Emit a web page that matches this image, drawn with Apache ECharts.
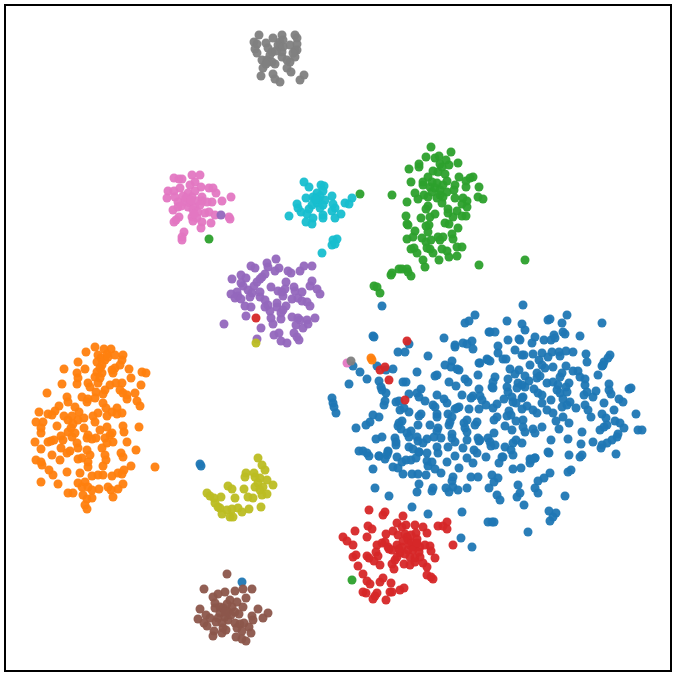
<!DOCTYPE html>
<html><head><meta charset="utf-8">
<style>html,body{margin:0;padding:0;background:#fff}#c{width:676px;height:676px}</style>
<script src="https://cdn.jsdelivr.net/npm/echarts@6/dist/echarts.min.js"></script>
</head><body><div id="c"></div>
<script>
const class0 = [[382,306],[475,315],[465,323],[469,321],[373,336],[374,337],[444,338],[409,344],[398,352],[405,352],[428,356],[455,345],[455,347],[463,343],[467,344],[472,341],[473,349],[489,332],[353,366],[360,372],[367,379],[349,384],[377,366],[386,370],[393,369],[417,372],[379,381],[381,387],[382,390],[386,393],[403,382],[406,382],[437,375],[435,376],[445,365],[452,361],[451,367],[457,369],[459,370],[479,363],[487,359],[488,360],[478,375],[449,382],[456,386],[465,379],[468,382],[421,389],[417,393],[419,397],[425,401],[437,395],[409,394],[444,399],[447,403],[462,395],[479,389],[473,396],[471,398],[480,396],[482,400],[332,398],[333,403],[334,407],[336,413],[385,401],[384,405],[396,402],[399,401],[433,405],[435,407],[404,408],[400,410],[409,412],[421,414],[419,416],[437,414],[437,417],[448,414],[452,417],[457,408],[459,407],[455,409],[469,409],[479,409],[486,405],[373,415],[379,417],[370,422],[366,425],[356,428],[402,421],[399,423],[398,426],[401,429],[418,425],[430,425],[449,425],[450,422],[464,423],[467,420],[477,422],[475,425],[465,428],[438,428],[437,431],[434,437],[441,438],[411,431],[407,433],[409,437],[417,437],[418,441],[427,439],[423,443],[467,432],[467,440],[452,434],[452,438],[455,442],[478,438],[479,441],[488,438],[382,437],[376,439],[395,438],[396,442],[396,445],[359,451],[363,451],[367,453],[369,456],[379,456],[388,451],[387,455],[397,457],[409,447],[413,449],[419,452],[427,453],[437,447],[438,453],[448,447],[455,456],[463,448],[474,450],[477,453],[406,460],[411,460],
[523,305],[507,321],[567,315],[548,320],[550,319],[562,323],[522,324],[525,330],[602,323],[490,332],[495,332],[563,332],[565,334],[580,336],[508,340],[519,339],[520,340],[535,337],[532,343],[544,340],[551,340],[554,335],[555,338],[498,346],[498,353],[515,350],[522,355],[524,355],[533,354],[542,353],[552,352],[559,352],[566,351],[573,352],[560,356],[548,357],[586,354],[587,362],[610,355],[608,358],[604,362],[602,366],[603,365],[490,361],[480,363],[503,359],[506,359],[530,365],[539,360],[542,365],[545,368],[553,367],[566,366],[510,369],[519,370],[515,374],[525,376],[529,381],[508,379],[537,373],[537,378],[540,376],[562,373],[560,377],[573,371],[578,371],[580,377],[585,379],[598,375],[495,377],[493,382],[492,387],[493,388],[518,383],[522,385],[525,387],[517,388],[507,387],[508,392],[547,383],[553,382],[558,385],[569,383],[566,387],[585,385],[609,384],[631,388],[629,389],[534,389],[538,393],[542,395],[557,390],[560,393],[567,392],[587,392],[584,395],[596,391],[593,397],[609,390],[611,394],[504,399],[512,397],[523,397],[522,398],[513,402],[551,400],[542,403],[563,399],[570,402],[619,399],[623,402],[604,403],[497,404],[493,408],[516,403],[527,406],[522,409],[533,410],[537,413],[547,410],[553,413],[562,407],[567,405],[576,408],[585,405],[588,410],[591,417],[614,410],[509,411],[511,415],[507,416],[497,417],[494,420],[523,420],[516,421],[556,421],[563,417],[569,423],[602,414],[606,418],[607,425],[615,421],[620,423],[624,428],[636,414],[505,426],[512,430],[523,427],[525,432],[533,429],[535,433],[542,427],[559,429],[600,430],[604,427],[638,430],[642,430],[582,432],[618,434],[617,437],[494,433],[480,440],[568,439],[551,440],[516,440],[513,443],[522,443],[490,442],[491,446],[495,445],[612,440],[607,443],[602,445],[601,448],[593,442],[581,444],[505,447],[511,450],[513,455],[548,452],[549,453],[569,455],[580,457],[582,455],[616,454],[503,457],[530,459],[535,458],[486,457],
[373,469],[375,488],[389,496],[412,507],[428,514],[462,512],[417,492],[419,484],[403,474],[412,474],[418,474],[426,475],[393,467],[398,468],[402,462],[416,458],[419,452],[379,456],[385,459],[388,452],[427,461],[428,466],[432,462],[447,462],[459,468],[435,469],[441,473],[453,477],[452,481],[453,487],[446,488],[449,492],[458,490],[467,488],[433,488],[432,491],[471,477],[478,477],[489,488],[492,475],[498,478],[494,482],[497,495],[500,500],[513,469],[521,468],[499,463],[502,457],[473,463],[467,458],[530,463],[531,460],[535,458],[550,473],[544,478],[538,481],[535,488],[538,493],[518,485],[520,493],[517,497],[524,505],[568,472],[571,470],[565,496],[549,511],[556,513],[553,517],[550,521],[488,522],[492,522],[494,522],[528,532],[461,538],[472,547],[200,464],[201,466],[242,582]];
const class1 = [[95,347],[86,352],[111,349],[107,354],[98,355],[101,358],[97,362],[105,360],[108,357],[115,355],[123,355],[122,360],[78,362],[64,369],[85,369],[77,373],[97,372],[102,373],[112,370],[115,368],[120,365],[129,369],[142,372],[146,373],[113,373],[95,377],[100,378],[78,378],[131,378],[62,384],[77,384],[88,383],[90,387],[98,383],[141,385],[110,385],[116,383],[122,383],[105,390],[103,394],[96,392],[120,390],[123,393],[127,395],[135,393],[47,393],[67,397],[68,402],[82,397],[88,399],[95,398],[87,402],[127,399],[137,401],[140,406],[103,403],[106,408],[117,408],[112,412],[107,416],[117,414],[122,413],[98,413],[93,416],[39,412],[59,406],[55,411],[48,414],[52,415],[75,407],[79,412],[64,416],[68,420],[72,416],[78,420],[84,418],[36,422],[43,422],[41,428],[41,433],[57,426],[73,424],[71,428],[95,422],[68,432],[75,433],[61,436],[63,440],[51,441],[54,440],[48,442],[35,442],[72,437],[77,443],[84,428],[88,435],[87,438],[92,439],[96,438],[100,430],[107,427],[112,433],[110,435],[123,426],[124,432],[139,427],[105,438],[113,442],[127,442],[107,443],[102,448],[136,450],[41,449],[61,448],[78,448],[87,450],[90,455],[70,451],[67,453],[52,455],[60,460],[78,459],[82,458],[121,453],[123,457],[105,455],[106,460],[103,466],[88,462],[88,467],[36,460],[41,462],[42,465],[131,466],[49,470],[53,475],[67,472],[80,473],[92,476],[98,475],[103,475],[112,476],[118,473],[124,470],[122,474],[155,467],[41,482],[58,484],[78,483],[85,482],[82,487],[88,487],[123,484],[118,489],[108,487],[111,490],[99,489],[68,493],[73,493],[83,495],[87,499],[92,498],[113,497],[85,505],[87,509],[371,358],[372,360],[104,349],[102,365],[100,368],[92,490]];
const class2 = [[431,147],[451,152],[426,157],[435,158],[439,156],[446,160],[440,164],[449,165],[458,163],[442,167],[409,169],[419,164],[419,167],[433,171],[438,172],[445,174],[428,177],[423,182],[459,177],[473,177],[470,178],[411,182],[437,183],[447,181],[466,181],[455,185],[466,187],[479,187],[423,185],[430,187],[415,193],[432,192],[440,190],[447,192],[454,190],[424,195],[418,199],[428,197],[440,195],[443,197],[392,195],[455,198],[463,198],[467,201],[478,197],[483,199],[407,202],[442,203],[462,204],[467,207],[428,206],[426,209],[448,209],[448,213],[457,211],[462,216],[466,216],[453,217],[435,214],[430,217],[406,216],[421,218],[407,224],[408,225],[445,223],[449,224],[426,226],[429,225],[458,228],[428,232],[415,231],[407,239],[413,237],[422,238],[426,242],[431,240],[438,237],[443,237],[440,240],[452,234],[453,239],[411,249],[414,248],[417,253],[427,248],[430,249],[433,253],[442,249],[447,251],[457,247],[462,247],[449,257],[457,256],[423,260],[425,267],[439,260],[479,265],[525,260],[391,275],[392,273],[399,269],[402,269],[407,269],[408,272],[411,276],[374,286],[377,287],[380,293],[352,580],[360,194],[209,239],[435,188],[443,185],[437,198],[432,182]];
const class3 = [[369,510],[383,515],[385,512],[403,516],[397,523],[402,527],[406,525],[415,525],[423,527],[427,533],[416,533],[438,526],[443,526],[447,522],[447,529],[355,531],[368,526],[372,529],[367,537],[343,537],[347,541],[353,545],[386,534],[393,531],[398,535],[405,534],[408,540],[417,539],[377,545],[382,543],[385,542],[388,547],[389,549],[376,552],[378,556],[397,545],[402,547],[410,545],[415,547],[420,547],[425,545],[430,546],[431,551],[408,550],[453,545],[400,553],[397,557],[395,560],[410,557],[415,558],[420,557],[435,558],[353,557],[356,555],[367,556],[369,558],[374,561],[380,565],[358,566],[392,564],[394,569],[404,564],[410,565],[415,562],[423,563],[427,567],[363,574],[367,581],[370,584],[380,582],[383,578],[391,583],[427,575],[433,579],[431,577],[363,592],[366,593],[377,593],[375,596],[373,599],[386,600],[390,592],[392,592],[400,590],[404,588],[407,537],[412,543],[413,550],[417,543],[407,341],[380,370],[385,367],[389,380],[405,400],[256,318],[411,535],[403,541],[405,554],[419,552],[399,549],[392,550]];
const class4 = [[276,259],[267,263],[251,266],[255,268],[268,267],[279,268],[275,271],[288,271],[291,273],[304,266],[300,271],[312,266],[241,275],[265,274],[262,277],[246,278],[232,279],[260,279],[257,282],[286,282],[312,281],[310,286],[241,283],[243,286],[254,286],[271,287],[294,287],[317,289],[320,294],[278,291],[285,289],[282,292],[248,290],[252,293],[260,292],[237,292],[231,294],[238,296],[235,298],[241,299],[250,297],[260,297],[283,296],[295,291],[302,292],[292,299],[298,298],[302,301],[307,302],[310,306],[265,300],[277,303],[286,306],[245,306],[251,307],[265,307],[268,305],[277,307],[283,310],[281,313],[270,311],[246,316],[271,318],[292,317],[298,318],[300,320],[315,318],[307,320],[281,319],[224,324],[273,324],[296,325],[308,324],[303,328],[261,328],[274,335],[279,333],[294,333],[297,337],[299,340],[281,341],[287,343],[257,339]];
const class5 = [[227,574],[204,589],[235,591],[243,589],[252,589],[225,592],[218,594],[213,597],[246,598],[215,603],[230,600],[237,602],[227,604],[232,607],[243,607],[200,609],[215,608],[223,608],[258,609],[228,612],[220,613],[235,612],[239,614],[268,613],[206,615],[210,618],[198,619],[218,618],[225,617],[228,620],[252,616],[253,620],[263,618],[204,623],[207,626],[222,623],[235,623],[240,624],[244,623],[223,628],[249,627],[237,628],[214,631],[226,630],[222,633],[213,636],[242,631],[251,633],[236,637],[242,639],[246,641],[231,615],[220,607],[225,612],[216,622]];
const class6 = [[192,175],[200,175],[174,178],[179,179],[182,179],[195,182],[190,185],[201,187],[168,191],[174,191],[180,188],[209,188],[213,188],[216,193],[188,193],[195,191],[167,198],[175,197],[183,196],[192,197],[202,197],[231,197],[222,201],[212,202],[207,202],[178,202],[185,202],[190,203],[197,201],[202,201],[188,207],[195,207],[200,205],[173,210],[178,207],[193,210],[198,212],[205,213],[209,212],[215,215],[229,217],[230,219],[192,217],[197,218],[193,221],[202,222],[179,217],[176,220],[174,222],[211,223],[201,228],[184,232],[182,237],[182,240],[347,363],[186,198],[191,200],[181,206],[194,214]];
const class7 = [[259,35],[282,35],[295,35],[273,38],[297,38],[254,42],[257,44],[266,43],[280,42],[283,40],[290,45],[297,44],[268,48],[280,47],[255,49],[257,53],[272,52],[282,52],[295,51],[297,50],[270,55],[282,57],[295,57],[293,53],[262,60],[267,60],[272,62],[287,60],[290,62],[263,68],[275,64],[287,68],[291,72],[261,76],[273,74],[275,79],[280,82],[304,75],[300,80],[351,361],[268,62],[266,64],[278,45],[276,51],[283,47]];
const class8 = [[258,458],[262,465],[265,470],[246,473],[245,477],[254,473],[255,477],[260,478],[267,480],[228,486],[232,489],[244,489],[258,483],[255,487],[263,487],[273,485],[260,490],[207,493],[210,496],[221,497],[235,498],[248,497],[253,498],[262,495],[267,494],[214,498],[215,503],[218,507],[220,508],[227,510],[232,509],[238,508],[242,512],[249,509],[261,507],[222,514],[230,517],[233,517],[256,343]];
const class9 = [[304,182],[309,187],[321,185],[324,186],[323,191],[317,193],[306,198],[332,196],[313,197],[352,198],[345,203],[349,204],[297,204],[298,208],[319,200],[325,200],[317,203],[323,205],[333,204],[335,208],[312,205],[309,209],[301,212],[307,214],[332,211],[341,214],[289,216],[313,218],[323,215],[323,218],[335,218],[306,222],[312,224],[337,239],[333,240],[332,245],[335,244],[322,253],[320,196],[315,199],[320,208]];
const strayPurple = [[221,215]];
const colors = ['#1f77b4','#ff7f0e','#2ca02c','#d62728','#9467bd','#8c564b','#e377c2','#7f7f7f','#bcbd22','#17becf','#9467bd'];
const groups = [class0,class1,class2,class3,class4,class5,class6,class7,class8,class9,strayPurple];
const chart = echarts.init(document.getElementById('c'),null,{renderer:'canvas'});
const hiddenAxis = {min:5,max:671,axisLabel:{show:false},axisTick:{show:false},axisLine:{show:false},splitLine:{show:false}};
chart.setOption({
  animation:false,
  backgroundColor:'#fff',
  grid:{left:5,top:5,width:666,height:666,show:true,borderColor:'#000',borderWidth:2,backgroundColor:'#fff'},
  xAxis:Object.assign({type:'value'},hiddenAxis),
  yAxis:Object.assign({type:'value',inverse:true},hiddenAxis),
  series:groups.map((g,i)=>({type:'scatter',data:g,symbol:'circle',symbolSize:9,clip:false,large:false,
    itemStyle:{color:colors[i],opacity:0.95,borderWidth:0}}))
});
</script></body></html>
